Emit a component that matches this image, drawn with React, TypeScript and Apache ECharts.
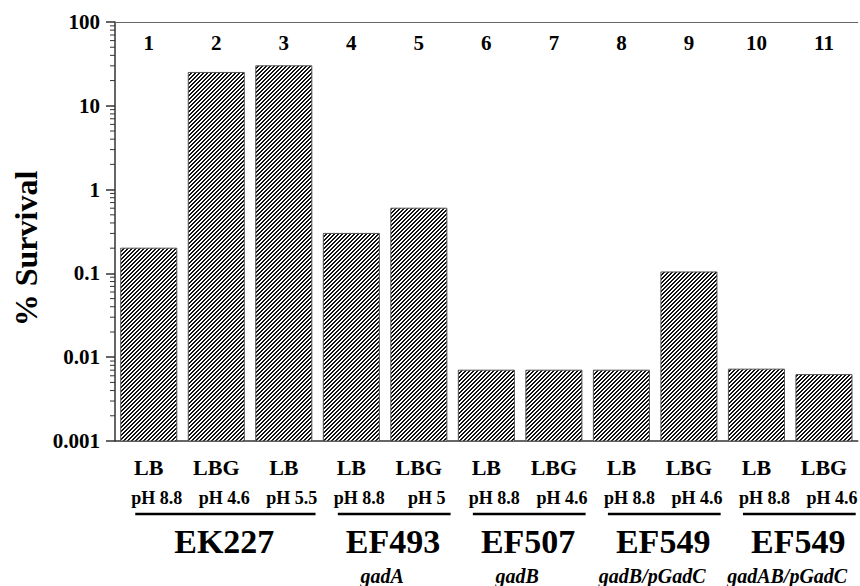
import React, { useEffect, useRef } from "react";
import * as echarts from "echarts";

const laneNumbers = ["1", "2", "3", "4", "5", "6", "7", "8", "9", "10", "11"];
const media = ["LB", "LBG", "LB", "LB", "LBG", "LB", "LBG", "LB", "LBG", "LB", "LBG"];
const conditions = ["pH 8.8", "pH 4.6", "pH 5.5", "pH 8.8", "pH 5", "pH 8.8", "pH 4.6", "pH 8.8", "pH 4.6", "pH 8.8", "pH 4.6"];
const survival = [0.2, 25, 30, 0.3, 0.6, 0.007, 0.007, 0.007, 0.104, 0.0072, 0.0062];

const groupNames = ["EK227", "EF493", "EF507", "EF549", "EF549"];
const groupGenes = ["", "gadA", "gadB", "gadB/pGadC", "gadAB/pGadC"];
const groupStart = [0, 3, 5, 7, 9];
const groupEnd = [2, 4, 6, 8, 10];

const minorTickValues = [
  20, 30, 40, 50, 60, 70, 80, 90,
  2, 3, 4, 5, 6, 7, 8, 9,
  0.2, 0.3, 0.4, 0.5, 0.6, 0.7, 0.8, 0.9,
  0.02, 0.03, 0.04, 0.05, 0.06, 0.07, 0.08, 0.09,
  0.002, 0.003, 0.004, 0.005, 0.006, 0.007, 0.008, 0.009,
];
const yTickLabels: Record<string, string> = {
  "0.001": "0.001", "0.01": "0.01", "0.1": "0.1", "1": "1", "10": "10", "100": "100",
};

const SERIF = '"Liberation Serif", "Times New Roman", serif';

function makeHatch(): HTMLCanvasElement {
  const c = document.createElement("canvas");
  c.width = 4;
  c.height = 4;
  const ctx = c.getContext("2d")!;
  ctx.fillStyle = "#fff";
  ctx.fillRect(0, 0, 4, 4);
  ctx.fillStyle = "#111";
  for (let y = 0; y < 4; y++) {
    const x0 = (3 - y + 4) % 4;
    const x1 = (4 - y) % 4;
    ctx.fillRect(x0, y, 1, 1);
    ctx.fillRect(x1, y, 1, 1);
  }
  return c;
}

export default function App() {
  const ref = useRef<HTMLDivElement>(null);
  useEffect(() => {
    if (!ref.current) return;
    const chart = echarts.init(ref.current, undefined, { renderer: "svg" });
    const hatch = makeHatch();
    const option: any = {
      animation: false,
      backgroundColor: "#fff",
      grid: { left: 115, right: -8, top: 22, bottom: 145, containLabel: false },
      xAxis: [
        {
          type: "category",
          data: laneNumbers,
          position: "bottom",
          axisLine: { show: true, lineStyle: { color: "#333", width: 1.5 } },
          axisTick: { show: false },
          axisLabel: {
            formatter: (_v: string, i: number) => media[i],
            margin: 15,
            color: "#000",
            fontFamily: SERIF,
            fontWeight: "bold",
            fontSize: 22,
            interval: 0,
          },
        },
        {
          type: "category",
          data: laneNumbers,
          position: "top",
          axisLine: { show: true, lineStyle: { color: "#666", width: 1 } },
          axisTick: { show: false },
          axisLabel: {
            inside: true,
            margin: 10,
            color: "#000",
            fontFamily: SERIF,
            fontWeight: "bold",
            fontSize: 21,
            interval: 0,
          },
        },
        {
          type: "category",
          data: laneNumbers,
          position: "bottom",
          offset: 0,
          axisLine: { show: false },
          axisTick: { show: false },
          axisLabel: {
            formatter: (_v: string, i: number) => conditions[i],
            margin: 48,
            padding: [0, 0, 0, 16],
            color: "#000",
            fontFamily: SERIF,
            fontWeight: "bold",
            fontSize: 18,
            interval: 0,
          },
        },
      ],
      yAxis: {
        type: "log",
        logBase: 10,
        min: 0.001,
        max: 100,
        name: "% Survival",
        nameLocation: "middle",
        nameGap: 70,
        nameTextStyle: {
          fontFamily: SERIF,
          fontWeight: "bold",
          fontSize: 32,
          color: "#000",
          padding: [0, 34, 0, 0],
        },
        splitLine: { show: false },
        axisLine: { show: true, lineStyle: { color: "#333", width: 1.5 } },
        axisTick: { show: true, length: 9, lineStyle: { color: "#333", width: 1.5 } },
        axisLabel: {
          margin: 15,
          color: "#000",
          fontFamily: SERIF,
          fontWeight: "bold",
          fontSize: 21,
          formatter: (v: number) => yTickLabels[String(v)] ?? String(v),
        },
      },
      series: [
        {
          type: "custom",
          name: "% Survival",
          xAxisIndex: 0,
          yAxisIndex: 0,
          encode: { x: 0, y: 1 },
          data: survival.map((v, i) => [i, v]),
          renderItem: (params: any, api: any) => {
            const p = api.coord([api.value(0), api.value(1)]);
            const band = api.size([1, 0])[0];
            const w = band * 0.83;
            const cs = params.coordSys;
            const base = cs.y + cs.height;
            return {
              type: "rect",
              shape: { x: p[0] - w / 2, y: p[1], width: w, height: base - p[1] },
              style: {
                fill: { image: hatch, repeat: "repeat" },
                stroke: "#555",
                lineWidth: 1,
              },
            };
          },
        },
        {
          type: "custom",
          xAxisIndex: 0,
          yAxisIndex: 0,
          clip: false,
          silent: true,
          encode: { x: 0, y: 1 },
          data: minorTickValues.map((v) => [0, v]),
          renderItem: (_params: any, api: any) => {
            const p = api.coord([0, api.value(1)]);
            const band = api.size([1, 0])[0];
            const ax = p[0] - band / 2;
            return {
              type: "line",
              shape: { x1: ax - 5, y1: p[1], x2: ax, y2: p[1] },
              style: { stroke: "#333", lineWidth: 1 },
            };
          },
        },
        {
          type: "custom",
          xAxisIndex: 0,
          yAxisIndex: 0,
          clip: false,
          silent: true,
          encode: { x: [0, 1], y: 2 },
          data: groupStart.map((s, i) => [s, groupEnd[i], 1]),
          renderItem: (params: any, api: any) => {
            const idx = params.dataIndex;
            const s = api.coord([api.value(0), 1]);
            const e = api.coord([api.value(1), 1]);
            const band = api.size([1, 0])[0];
            const cs = params.coordSys;
            const base = cs.y + cs.height;
            const mid = (s[0] + e[0]) / 2;
            return {
              type: "group",
              children: [
                {
                  type: "line",
                  shape: { x1: s[0] - band * 0.2, y1: base + 73, x2: e[0] + band * 0.47, y2: base + 73 },
                  style: { stroke: "#000", lineWidth: 2.5 },
                },
                {
                  type: "text",
                  x: mid + 8,
                  y: base + 100,
                  style: {
                    text: groupNames[idx],
                    fontFamily: SERIF,
                    fontWeight: "bold",
                    fontSize: 34,
                    fill: "#000",
                    align: "center",
                    verticalAlign: "middle",
                  },
                },
                {
                  type: "text",
                  x: mid - 3,
                  y: base + 135,
                  style: {
                    text: groupGenes[idx],
                    fontFamily: SERIF,
                    fontWeight: "bold",
                    fontStyle: "italic",
                    fontSize: 20,
                    fill: "#000",
                    align: "center",
                    verticalAlign: "middle",
                  },
                },
              ],
            };
          },
        },
      ],
    };
    chart.setOption(option);
    return () => chart.dispose();
  }, []);
  return (
    <div
      ref={ref}
      style={{ position: "absolute", left: 0, top: 0, width: 860, height: 586, overflow: "hidden" }}
    />
  );
}
